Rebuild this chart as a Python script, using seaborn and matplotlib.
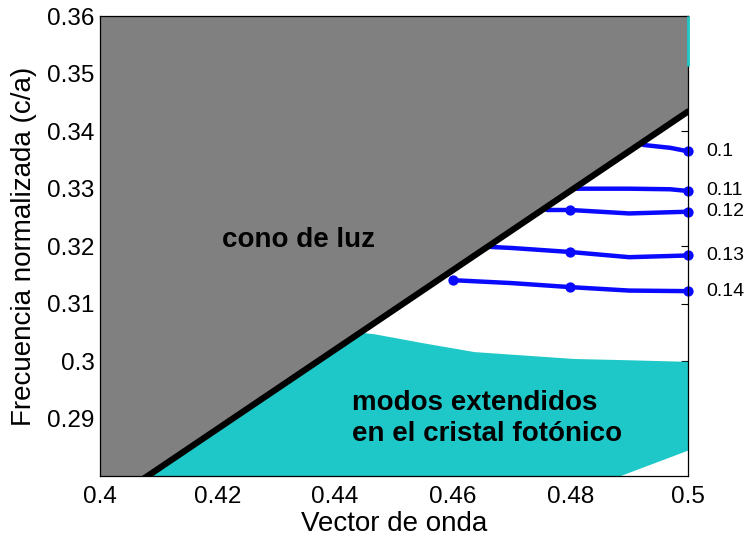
import numpy as np
import pandas as pd
import matplotlib
matplotlib.use("Agg")
import matplotlib.pyplot as plt
import seaborn as sns

# light line (cone boundary)
light_k = [0.40, 0.50]
light_w = [0.2745, 0.3434]

# band of extended modes (cyan region)
band_k = [0.400, 0.4466, 0.4551, 0.4636, 0.4721, 0.4806, 0.4891, 0.500]
band_top = [0.310, 0.3048, 0.3032, 0.3017, 0.3011, 0.3005, 0.3003, 0.3000]
band_bottom = [0.245, 0.2638, 0.2671, 0.2704, 0.2737, 0.2770, 0.2804, 0.2846]

# small cyan strip along the right edge at the top
edge_w = [0.3513, 0.360]

# guided modes, one per parameter value
mode_labels = ["0.1", "0.11", "0.12", "0.13", "0.14"]
mode_k = [
    [0.4924, 0.497, 0.50],
    [0.4806, 0.490, 0.497, 0.50],
    [0.4760, 0.480, 0.490, 0.50],
    [0.4660, 0.470, 0.480, 0.490, 0.50],
    [0.4601, 0.470, 0.480, 0.490, 0.50],
]
mode_w = [
    [0.3376, 0.3371, 0.3365],
    [0.3300, 0.3300, 0.3299, 0.3296],
    [0.3263, 0.3263, 0.3257, 0.3260],
    [0.3199, 0.3197, 0.3190, 0.3181, 0.3184],
    [0.3141, 0.3136, 0.3129, 0.3123, 0.3122],
]
marker_k = [0.46, 0.48, 0.50]

sns.set_style("white")
plt.rcParams["font.family"] = ["Liberation Sans", "DejaVu Sans"]
plt.rcParams.update({"text.color": "black", "axes.labelcolor": "black",
                     "xtick.color": "black", "ytick.color": "black"})

fig = plt.figure(figsize=(7.49, 5.43), dpi=100)
ax = fig.add_axes([0.1335, 0.1225, 0.785, 0.848])

cyan = "#1fc8c8"
grey = "#808080"
blue = "#0a0aff"

ax.fill_between(band_k, band_bottom, band_top, color=cyan, lw=0, zorder=1)
ax.plot([0.5, 0.5], edge_w, color=cyan, lw=2, zorder=6, clip_on=False,
        solid_capstyle="butt")

ax.fill_between(light_k, light_w, [0.36, 0.36], color=grey, lw=0, zorder=3)

for lab, ks, ws in zip(mode_labels, mode_k, mode_w):
    df = pd.DataFrame({"k": ks, "w": ws})
    sns.lineplot(data=df, x="k", y="w", color=blue, lw=3.2, ax=ax, zorder=2)
    pts = df[df["k"].round(3).isin(marker_k)]
    sns.scatterplot(data=pts, x="k", y="w", color=blue, s=55, edgecolor=blue,
                    linewidth=0, ax=ax, zorder=5, clip_on=False)
    ax.annotate(lab, (ks[-1], ws[-1]), xytext=(13, 0), textcoords="offset points",
                ha="left", va="center", fontsize=14, annotation_clip=False)

sns.lineplot(x=light_k, y=light_w, color="black", lw=4.5, ax=ax, zorder=4)

ax.text(0.4207, 0.3211, "cono de luz", fontsize=20, fontweight="bold",
        ha="left", va="center", zorder=6)
ax.text(0.4429, 0.2900, "modos extendidos\nen el cristal fotónico", fontsize=20,
        fontweight="bold", ha="left", va="center", linespacing=1.25, zorder=6)

ax.set_xlim(0.4, 0.5)
ax.set_ylim(0.28, 0.36)
ax.set_xticks([0.4, 0.42, 0.44, 0.46, 0.48, 0.5])
ax.set_xticklabels(["0.4", "0.42", "0.44", "0.46", "0.48", "0.5"])
yt = [0.29, 0.30, 0.31, 0.32, 0.33, 0.34, 0.35, 0.36]
ax.set_yticks(yt)
ax.set_yticklabels(["%g" % v for v in yt])
ax.tick_params(direction="in", length=5, width=0.8, labelsize=17.5,
               top=True, right=True)
ax.tick_params(axis="x", pad=7)
ax.tick_params(axis="y", pad=4)
ax.set_xlabel("Vector de onda", fontsize=20, labelpad=2)
ax.set_ylabel("Frecuencia normalizada (c/a)", fontsize=20, labelpad=7)
for s in ax.spines.values():
    s.set_color("black")
    s.set_linewidth(0.9)
    s.set_zorder(5)

fig.savefig("out.png", dpi=100)
